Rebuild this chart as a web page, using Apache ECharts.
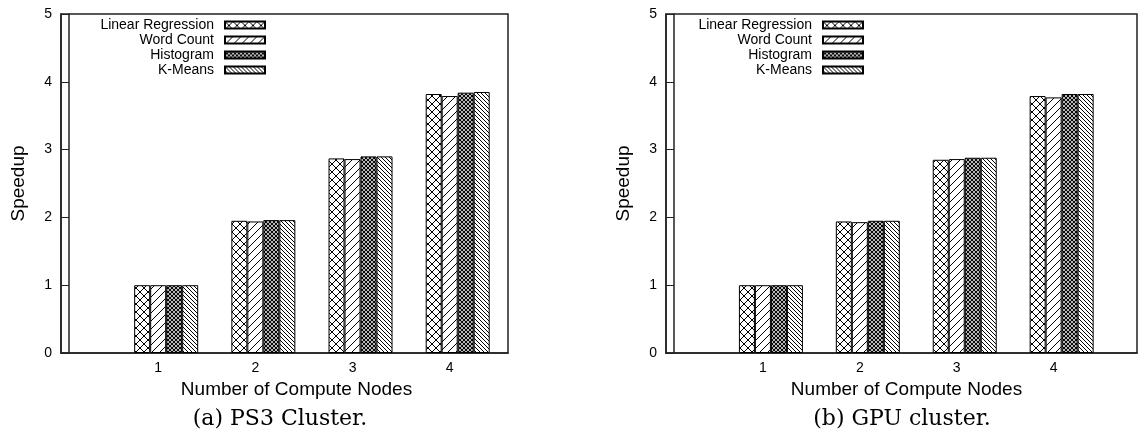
<!DOCTYPE html>
<html>
<head>
<meta charset="utf-8">
<script src="https://cdn.jsdelivr.net/npm/echarts@6/dist/echarts.min.js"></script>
<style>
  html, body { margin: 0; padding: 0; background: #fff; }
  #chart { width: 1140px; height: 445px; }
</style>
</head>
<body>
<div id="chart"></div>
<script>
// data
var nodes = [1, 2, 3, 4];
var seriesNames = ["Linear Regression", "Word Count", "Histogram", "K-Means"];
var yTicks = [0, 1, 2, 3, 4, 5];

// (a) PS3 cluster
var ps3LinReg = [1.0, 1.95, 2.87, 3.82];
var ps3WordCount = [1.0, 1.94, 2.86, 3.79];
var ps3Histogram = [1.0, 1.96, 2.90, 3.84];
var ps3KMeans = [1.0, 1.96, 2.90, 3.85];

// (b) GPU cluster
var gpuLinReg = [1.0, 1.94, 2.85, 3.79];
var gpuWordCount = [1.0, 1.93, 2.86, 3.77];
var gpuHistogram = [1.0, 1.95, 2.88, 3.82];
var gpuKMeans = [1.0, 1.95, 2.88, 3.82];

var captions = ["(a) PS3 Cluster.", "(b) GPU cluster."];

// hatch tiles, gnuplot style fill patterns
function makeTile(size, dirs, lw) {
  var c = document.createElement("canvas");
  c.width = size;
  c.height = size;
  var ctx = c.getContext("2d");
  ctx.fillStyle = "#fff";
  ctx.fillRect(0, 0, size, size);
  ctx.strokeStyle = "#000";
  ctx.lineWidth = lw;
  dirs.forEach(function (d) {
    for (var k = -1; k <= 1; k++) {
      ctx.beginPath();
      if (d == "/") {
        ctx.moveTo(k * size, size);
        ctx.lineTo(k * size + size, 0);
      } else {
        ctx.moveTo(k * size, 0);
        ctx.lineTo(k * size + size, size);
      }
      ctx.stroke();
    }
  });
  return { image: c, repeat: "repeat" };
}

var fills = [
  makeTile(8, ["/", "\\"], 1),
  makeTile(8, ["/"], 1),
  makeTile(4, ["/", "\\"], 1.1),
  makeTile(4, ["\\"], 1),
];

var panels = [
  { vals: [ps3LinReg, ps3WordCount, ps3Histogram, ps3KMeans], left: 61, width: 447, max: 4.6, legendRight: 874, caption: 280, titlePad: 24 },
  { vals: [gpuLinReg, gpuWordCount, gpuHistogram, gpuKMeans], left: 666, width: 471, max: 4.86, legendRight: 276, caption: 902, titlePad: 10 },
];

var grids = [], xAxes = [], yAxes = [], series = [], legends = [], graphics = [];
var axisColor = "#222";
var font = "Liberation Sans";

panels.forEach(function (p, pi) {
  grids.push({
    left: p.left,
    top: 14,
    width: p.width,
    height: 339,
    show: true,
    borderColor: axisColor,
    borderWidth: 1.5,
  });
  // visible axis with the node labels
  xAxes.push({
    type: "value",
    gridIndex: pi,
    min: 0,
    max: p.max,
    interval: 1,
    name: "Number of Compute Nodes",
    nameLocation: "middle",
    nameGap: 26,
    nameTextStyle: { fontSize: 19, fontFamily: font, color: "#000", padding: [0, 0, 0, p.titlePad] },
    axisLine: { lineStyle: { color: axisColor, width: 1.5 } },
    axisTick: { show: false },
    splitLine: { show: false },
    axisLabel: {
      fontSize: 14,
      fontFamily: font,
      color: "#000",
      margin: 8,
      showMinLabel: false,
      showMaxLabel: false,
      formatter: function (v) {
        return nodes.indexOf(v) >= 0 ? String(v) : "";
      },
    },
  });
  // hidden axis for the bars: clusters sit half a bar right of the label
  var shift = 8 / (p.width / p.max);
  xAxes.push({
    type: "value",
    gridIndex: pi,
    min: -shift,
    max: p.max - shift,
    show: false,
  });
  yAxes.push({
    type: "value",
    gridIndex: pi,
    min: yTicks[0],
    max: yTicks[yTicks.length - 1],
    interval: 1,
    name: "Speedup",
    nameLocation: "middle",
    nameGap: 33,
    nameTextStyle: { fontSize: 19, fontFamily: font, color: "#000" },
    axisLine: { show: true, lineStyle: { color: axisColor, width: 1.5 } },
    axisTick: { show: true, inside: true, length: 6, lineStyle: { color: axisColor } },
    splitLine: { show: false },
    axisLabel: { fontSize: 14, fontFamily: font, color: "#000", margin: 9 },
  });
  yAxes.push({
    type: "value",
    gridIndex: pi,
    position: "right",
    min: yTicks[0],
    max: yTicks[yTicks.length - 1],
    interval: 1,
    axisLine: { show: true, lineStyle: { color: axisColor, width: 1.5 } },
    axisTick: { show: true, inside: true, length: 6, lineStyle: { color: axisColor } },
    axisLabel: { show: false },
    splitLine: { show: false },
  });

  seriesNames.forEach(function (name, si) {
    series.push({
      name: name,
      type: "bar",
      xAxisIndex: pi * 2 + 1,
      yAxisIndex: pi * 2,
      barWidth: 16,
      barGap: "0%",
      data: nodes.map(function (n, i) {
        return [n, p.vals[si][i]];
      }),
      itemStyle: { color: fills[si], borderColor: "#000", borderWidth: 1 },
      emphasis: { disabled: true },
    });
    legends.push({
      data: [name],
      right: p.legendRight,
      top: 18 + si * 15,
      padding: 0,
      align: "right",
      icon: "rect",
      itemWidth: 40,
      itemHeight: 7,
      selectedMode: false,
      textStyle: { fontSize: 14, fontFamily: font, color: "#000", lineHeight: 14, padding: [0, 6, 0, 0] },
    });
  });

  graphics.push({
    type: "text",
    x: p.caption,
    y: 419,
    style: {
      text: captions[pi],
      fontSize: 22,
      fontFamily: "DejaVu Serif",
      fill: "#000",
      align: "center",
      verticalAlign: "middle",
      textAlign: "center",
      textVerticalAlign: "middle",
    },
  });
});

var chart = echarts.init(document.getElementById("chart"));
chart.setOption({
  animation: false,
  backgroundColor: "#fff",
  grid: grids,
  xAxis: xAxes,
  yAxis: yAxes,
  legend: legends,
  series: series,
  graphic: graphics,
});
</script>
</body>
</html>
